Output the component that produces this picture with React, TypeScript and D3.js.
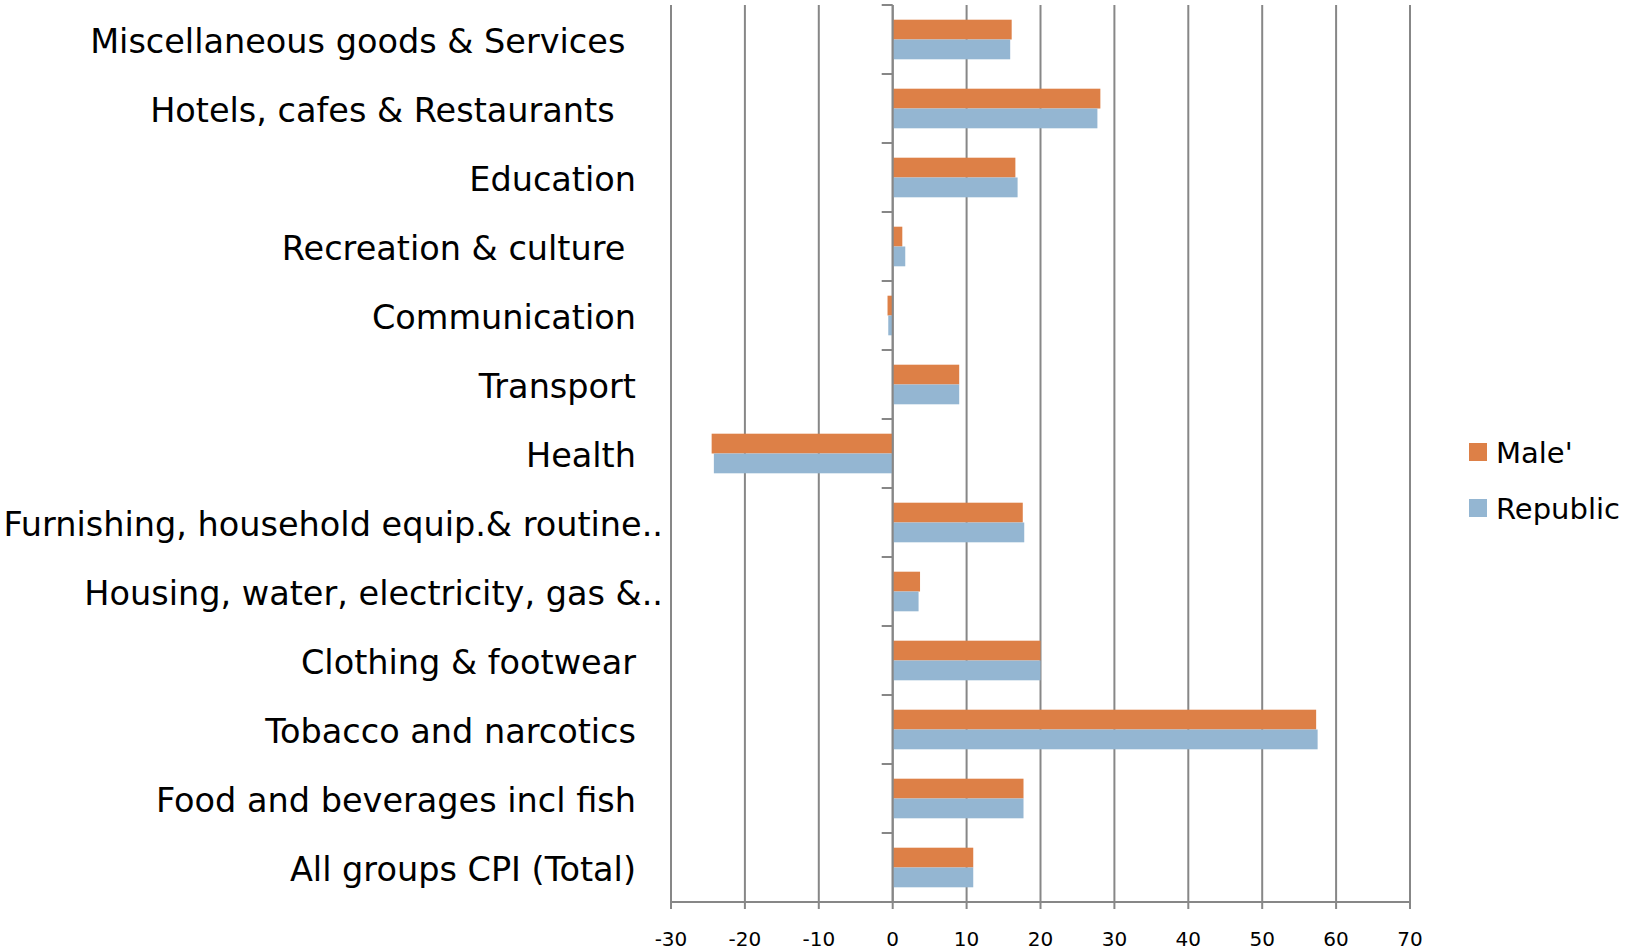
import { useEffect, useRef } from "react";
import * as d3 from "d3";

// top to bottom, as shown in the chart
const categories = [
  "Miscellaneous goods & Services ",
  "Hotels, cafes & Restaurants  ",
  "Education",
  "Recreation & culture ",
  "Communication",
  "Transport",
  "Health",
  "Furnishing, household equip.& routine..",
  "Housing, water, electricity, gas &..",
  "Clothing & footwear",
  "Tobacco and narcotics",
  "Food and beverages incl fish",
  "All groups CPI (Total)",
];
const maleValues = [16.1, 28.1, 16.6, 1.3, -0.7, 9.0, -24.5, 17.6, 3.7, 20.0, 57.3, 17.7, 10.9];
const republicValues = [15.9, 27.7, 16.9, 1.7, -0.6, 9.0, -24.2, 17.8, 3.5, 20.0, 57.5, 17.7, 10.9];
const seriesNames = ["Male'", "Republic"];
const xTicks = [-30, -20, -10, 0, 10, 20, 30, 40, 50, 60, 70];

const colors = ["#DD8047", "#94B6D2"];
const FONT = "'DejaVu Sans', sans-serif";

export default function App() {
  const svgRef = useRef<SVGSVGElement | null>(null);

  useEffect(() => {
    const width = 1634;
    const height = 951;
    const margin = { top: 5, bottom: 902, left: 671, right: 1410 };

    const svg = d3.select(svgRef.current);
    svg.selectAll("*").remove();
    svg.attr("width", width).attr("height", height);

    const x = d3.scaleLinear().domain([-30, 70]).range([margin.left, margin.right]);
    const y = d3.scaleBand<string>()
      .domain(categories)
      .range([margin.top, margin.bottom])
      .paddingInner(0.426)
      .paddingOuter(0.213);
    const ySub = d3.scaleBand<string>().domain(seriesNames).range([0, y.bandwidth()]);
    const step = y.step();

    // vertical gridlines
    svg.append("g")
      .selectAll("line")
      .data(xTicks)
      .enter().append("line")
      .attr("x1", d => x(d))
      .attr("x2", d => x(d))
      .attr("y1", margin.top)
      .attr("y2", margin.bottom + 7)
      .attr("stroke", "#878787")
      .attr("stroke-width", 2);

    // x axis line
    svg.append("line")
      .attr("x1", x(-30)).attr("x2", x(70))
      .attr("y1", margin.bottom).attr("y2", margin.bottom)
      .attr("stroke", "#878787")
      .attr("stroke-width", 2);

    // tick labels
    svg.append("g")
      .selectAll("text")
      .data(xTicks)
      .enter().append("text")
      .attr("x", d => x(d))
      .attr("y", 939)
      .attr("text-anchor", "middle")
      .attr("dominant-baseline", "central")
      .attr("font-family", FONT)
      .attr("font-size", 20)
      .attr("fill", "#000")
      .text(d => d);

    // bars
    const series = [maleValues, republicValues];
    series.forEach((vals, si) => {
      svg.append("g")
        .selectAll("rect")
        .data(categories)
        .enter().append("rect")
        .attr("x", (_, i) => x(Math.min(0, vals[i])))
        .attr("y", d => (y(d) as number) + (ySub(seriesNames[si]) as number))
        .attr("width", (_, i) => Math.abs(x(vals[i]) - x(0)))
        .attr("height", ySub.bandwidth())
        .attr("fill", colors[si]);
    });

    // category axis at zero
    svg.append("line")
      .attr("x1", x(0)).attr("x2", x(0))
      .attr("y1", margin.top).attr("y2", margin.bottom)
      .attr("stroke", "#878787")
      .attr("stroke-width", 2);

    svg.append("g")
      .selectAll("line")
      .data(d3.range(categories.length + 1))
      .enter().append("line")
      .attr("x1", x(0) - 11)
      .attr("x2", x(0))
      .attr("y1", i => margin.top + i * step)
      .attr("y2", i => margin.top + i * step)
      .attr("stroke", "#878787")
      .attr("stroke-width", 2);

    // category labels
    svg.append("g")
      .selectAll("text")
      .data(categories)
      .enter().append("text")
      .attr("x", d => (d.endsWith("..") ? 663 : 636))
      .attr("y", d => (y(d) as number) + y.bandwidth() / 2 + 2)
      .attr("text-anchor", "end")
      .attr("dominant-baseline", "central")
      .attr("font-family", FONT)
      .attr("font-size", 33.5)
      .attr("fill", "#000")
      .style("white-space", "pre")
      .text(d => d);

    // legend
    const legend = svg.append("g")
      .selectAll("g")
      .data(seriesNames)
      .enter().append("g")
      .attr("transform", (_, i) => `translate(1469,${452 + i * 56})`);
    legend.append("rect")
      .attr("x", 0).attr("y", -9)
      .attr("width", 18).attr("height", 18)
      .attr("fill", (_, i) => colors[i]);
    legend.append("text")
      .attr("x", 27).attr("y", 1)
      .attr("dominant-baseline", "central")
      .attr("font-family", FONT)
      .attr("font-size", 29)
      .attr("fill", "#000")
      .text(d => d);
  }, []);

  return (
    <svg
      ref={svgRef}
      style={{ position: "absolute", left: 0, top: 0, display: "block", background: "#fff" }}
    />
  );
}
